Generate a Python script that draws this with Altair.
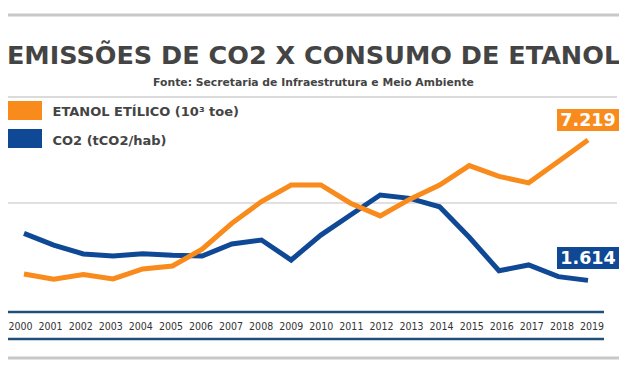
import altair as alt
import pandas as pd

# ---------------- data ----------------
years = list(range(2000, 2020))
etanol = [1.63, 1.41, 1.60, 1.42, 1.84, 1.96, 2.66, 3.74, 4.65, 5.34,
          5.34, 4.58, 4.05, 4.75, 5.34, 6.15, 5.70, 5.43, 6.32, 7.219]
co2 = [1.995, 1.900, 1.828, 1.811, 1.830, 1.817, 1.811, 1.909, 1.941, 1.779,
       1.981, 2.143, 2.305, 2.278, 2.210, 1.963, 1.692, 1.739, 1.644, 1.614]
series_names = ["ETANOL ETÍLICO (10³ toe)", "CO2 (tCO2/hab)"]
last_labels = ["7.219", "1.614"]
title_text = "EMISSÕES DE CO2 X CONSUMO DE ETANOL"
subtitle_text = "Fonte: Secretaria de Infraestrutura e Meio Ambiente"

ORANGE = "#F98A1C"
BLUE = "#0F4996"
AXIS_BLUE = "#1F4E79"
TEXT = "#444444"
FONT = "DejaVu Sans"

W, H = 611, 360

df = pd.DataFrame({"ano": years, "etanol": etanol, "co2": co2})
df_years = pd.DataFrame({"ano": years, "lbl": [str(y) for y in years]})

x_line = alt.X("ano:Q", scale=alt.Scale(domain=[2000, 2019], range=[16, 580]), axis=None)
x_lbl = alt.X("ano:Q", scale=alt.Scale(domain=[2000, 2019], range=[12.5, 584]), axis=None)


def hrule(y, x1, x2, color, width):
    return alt.Chart(pd.DataFrame({"k": [0]})).mark_rule(
        color=color, strokeWidth=width
    ).encode(x=alt.value(x1), x2=alt.value(x2), y=alt.value(y))


def text_at(txt, x, y, size, color, align="center", baseline="middle", weight="bold", font=FONT):
    return alt.Chart(pd.DataFrame({"t": [txt]})).mark_text(
        font=font, fontSize=size, fontWeight=weight, color=color,
        align=align, baseline=baseline
    ).encode(text="t:N", x=alt.value(x), y=alt.value(y))


def box(x1, x2, y1, y2, color):
    return alt.Chart(pd.DataFrame({"k": [0]})).mark_rect(color=color).encode(
        x=alt.value(x1), x2=alt.value(x2), y=alt.value(y1), y2=alt.value(y2)
    )


layers = [
    hrule(7, 0, W, "#C8C8C8", 3),
    text_at(title_text, W / 2, 55.5, 25.5, TEXT, baseline="alphabetic"),
    text_at(subtitle_text, W / 2, 78, 10.8, TEXT, baseline="alphabetic"),
    hrule(89, 0, 609, "#CFCFCF", 1.5),
    box(0, 34, 93, 112, ORANGE),
    box(0, 34, 121, 140, BLUE),
    text_at(series_names[0], 44.5, 104, 13, TEXT, align="left"),
    text_at(series_names[1], 44.5, 133, 13, TEXT, align="left"),
    hrule(195, 0, 609, "#D6D6D6", 1.5),
    hrule(304, 0, 596, AXIS_BLUE, 2.5),
    hrule(331, 0, 596, AXIS_BLUE, 2.5),
    hrule(350, 0, W, "#C8C8C8", 3),
    alt.Chart(df).mark_line(color=BLUE, strokeWidth=5).encode(
        x=x_line,
        y=alt.Y("co2:Q", scale=alt.Scale(domain=[1.35, 3.05], range=[305, 95]), axis=None),
    ),
    alt.Chart(df).mark_line(color=ORANGE, strokeWidth=5).encode(
        x=x_line,
        y=alt.Y("etanol:Q", scale=alt.Scale(domain=[0, 8.76], range=[305, 95]), axis=None),
    ),
    alt.Chart(df_years).mark_text(
        font="DejaVu Sans Condensed, Liberation Sans, sans-serif", fontSize=10.5,
        color="#333333", baseline="middle"
    ).encode(x=x_lbl, y=alt.value(319), text="lbl:N"),
    box(549, 611, 101, 123, ORANGE),
    text_at(last_labels[0], 580, 112.5, 17.5, "white"),
    box(549, 611, 239, 261, BLUE),
    text_at(last_labels[1], 580, 250.5, 17.5, "white"),
]

chart = alt.layer(*layers).resolve_scale(
    x="independent", y="independent"
).properties(
    width=W, height=H, padding=0, autosize=alt.AutoSizeParams(type="none"),
    background="white"
).configure_view(stroke=None)

chart.save("out.html", embed_options={"renderer": "svg", "actions": False})
